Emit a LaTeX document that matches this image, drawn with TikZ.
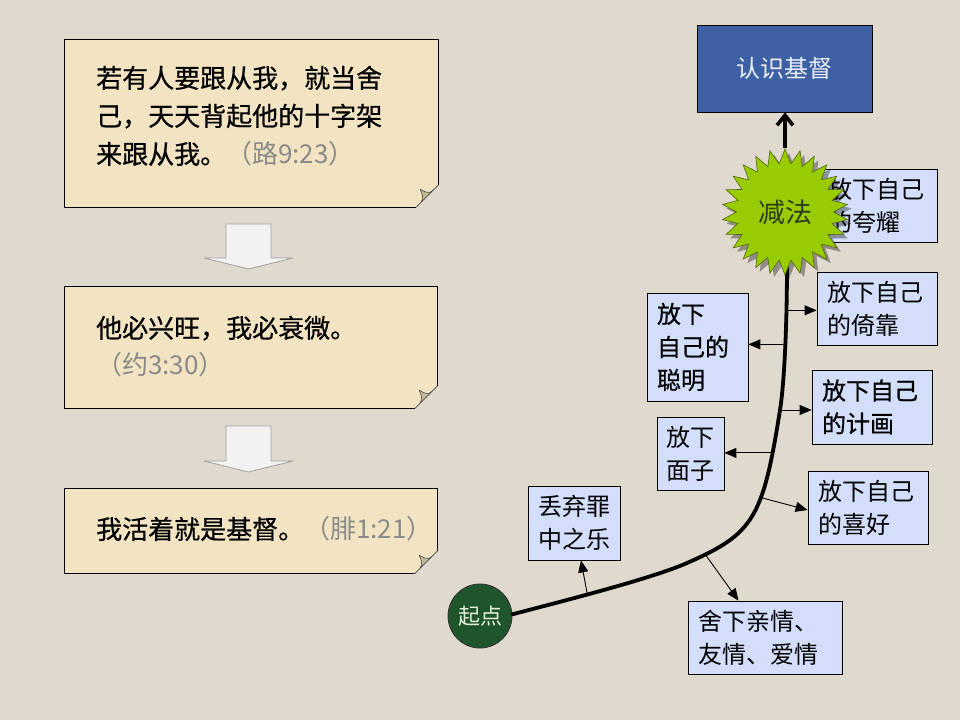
\documentclass[tikz,border=0pt]{standalone}
\usepackage{fontspec}
\setmainfont{Noto Sans CJK SC}
\newfontfamily\semib[FakeBold=0.6]{Noto Sans CJK SC}
\usetikzlibrary{arrows.meta,shapes.geometric,shadows}
\definecolor{bgc}{RGB}{223,217,206}
\definecolor{paper}{RGB}{242,228,194}
\definecolor{paperdark}{RGB}{196,184,150}
\definecolor{refgray}{RGB}{138,138,138}
\definecolor{lblue}{RGB}{210,222,250}
\definecolor{dblue}{RGB}{62,96,165}
\definecolor{sgreen}{RGB}{153,204,0}
\definecolor{starline}{RGB}{80,100,20}
\definecolor{startext}{RGB}{45,60,25}
\definecolor{dgreen}{RGB}{30,85,45}
\definecolor{qdtext}{RGB}{225,240,215}
\definecolor{rstext}{RGB}{235,240,250}
\definecolor{arrowfill}{RGB}{242,242,242}
\definecolor{arrowline}{RGB}{160,160,160}
\tikzset{
  pbox/.style={rectangle, draw=none, inner sep=0pt},
  stext/.style={inner sep=0pt, align=left, anchor=west, font=\semib\fontsize{26}{38}\selectfont},
  lbox/.style={rectangle, draw=black, line width=0.8pt, fill=lblue, inner xsep=10pt, inner ysep=0pt, align=left, font=\fontsize{24}{33}\selectfont},
  lboxb/.style={lbox, font=\semib\fontsize{24}{33}\selectfont},
  br/.style={line width=0.9pt, -{Triangle[length=12pt,width=10pt]}},
  maincurve/.style={line width=3.8pt, line cap=round},
  toparrow/.style={line width=3.6pt, -{Straight Barb[length=10pt,width=16pt]}},
  blockarrow/.style={fill=arrowfill, draw=arrowline, line width=0.8pt, line join=round},
  papfill/.style={fill=paper},
  papline/.style={draw=black, line width=1pt},
  flap/.style={fill=paperdark, draw=black!70, line width=0.6pt, line join=round}
}
\begin{document}
\begin{tikzpicture}[x=1pt,y=-1pt]
\useasboundingbox (0,0) rectangle (960,720);
\fill[bgc] (0,0) rectangle (960,720);
% paper boxes
\node[pbox, minimum width=373pt, minimum height=167pt] (p1) at (251.5,123.5) {};
\node[pbox, minimum width=372pt, minimum height=121pt] (p2) at (251,347.5) {};
\node[pbox, minimum width=372pt, minimum height=84pt] (p3) at (251,531) {};
\foreach \n in {p1,p2,p3}{
  \fill[papfill] (\n.north west) -- (\n.north east) -- ([yshift=22pt]\n.south east) -- ([xshift=-22pt]\n.south east) -- (\n.south west) -- cycle;
  \draw[papline] ([xshift=-22pt]\n.south east) -- (\n.south west) -- (\n.north west) -- (\n.north east) -- ([yshift=22pt]\n.south east);
  \filldraw[flap] ([yshift=22pt]\n.south east) .. controls ([xshift=-9pt,yshift=13pt]\n.south east) .. ([xshift=-18pt,yshift=18pt]\n.south east) .. controls ([xshift=-14pt,yshift=8pt]\n.south east) .. ([xshift=-22pt]\n.south east) -- cycle;
}
% block arrows
\coordinate (ar1) at (248.5,224);
\filldraw[blockarrow] (ar1) ++(-22.5,0) -- ++(45,0) -- ++(0,34) -- ++(22,0) -- ++(-44.5,11) -- ++(-44.5,-11) -- ++(22,0) -- cycle;
\coordinate (ar2) at (248.5,426);
\filldraw[blockarrow] (ar2) ++(-22.5,0) -- ++(45,0) -- ++(0,35) -- ++(22,0) -- ++(-44.5,11) -- ++(-44.5,-11) -- ++(22,0) -- cycle;
% scripture texts
\node[stext] (t1) at (96,116) {若有人要跟从我，就当舍\\己，天天背起他的十字架\\来跟从我。\textcolor{refgray}{\normalfont\fontsize{26}{38}\selectfont（路9:23）}};
\node[stext, font=\semib\fontsize{26}{37}\selectfont] (t2) at (96,346.5) {他必兴旺，我必衰微。\\\textcolor{refgray}{\normalfont\fontsize{26}{37}\selectfont（约3:30）}};
\node[stext] (t3) at (96,529) {我活着就是基督。\textcolor{refgray}{\normalfont\fontsize{26}{38}\selectfont（腓1:21）}};
% right side
\node[draw=black, line width=0.8pt, fill=dblue, text=rstext, minimum width=175pt, minimum height=87pt, font=\fontsize{24}{28}\selectfont] (rsjd) at (784.5,68.5) {\raisebox{-3pt}{认识基督}};
\node[lbox, text width=99pt, minimum height=73pt] (kuayao) at (877.5,205.5) {放下自己\\的夸耀};
\node[lbox, text width=100pt, minimum height=73pt] (yikao) at (877,308.5) {放下自己\\的倚靠};
\node[lboxb, text width=81pt, minimum height=108pt] (congming) at (697.5,347) {放下\\自己的\\聪明};
\node[lboxb, text width=100pt, minimum height=74pt] (jihua) at (872,407) {放下自己\\的计画};
\node[lbox, text width=48pt, inner xsep=9.5pt, minimum height=73pt] (mianzi) at (690.5,453.5) {放下\\面子};
\node[lbox, text width=100pt, minimum height=73pt] (xihao) at (868,507.5) {放下自己\\的喜好};
\node[lbox, text width=72pt, minimum height=74pt] (diuqi) at (574,523) {丢弃罪\\中之乐};
\node[lbox, text width=134pt, minimum height=73pt] (shexia) at (765,637.5) {舍下亲情、\\友情、爱情};
\node[circle, draw=black!80, line width=0.8pt, fill=dgreen, minimum size=64pt, inner sep=0pt, text=qdtext, font=\fontsize{22}{26}\selectfont] (qidian) at (480,616) {起点};
% main curve, with branch points on it
\draw[maincurve] (qidian.3) .. controls (567,600) and (652,578.4) .. (687,563)
    coordinate[pos=0.4] (b1)
  .. controls (753.6,533.8) and (762.9,518.5) .. (780,410)
    coordinate[pos=0.1] (b2) coordinate[pos=0.63] (b3) coordinate[pos=0.85] (b4) coordinate (b5)
  .. controls (784,385) and (787,330) .. (787,262)
    coordinate[pos=0.55] (b6) coordinate[pos=0.75] (b7);
% branches
\draw[br] (b1) -- (diuqi);
\draw[br] (b2) -- (shexia);
\draw[br] (b3) -- ([yshift=-2.5pt]xihao.west);
\draw[br] (b4) -- (b4 -| mianzi.east);
\draw[br] (b5) -- (b5 -| jihua.west);
\draw[br] (b6) -- (b6 -| congming.east);
\draw[br] (b7) -- (b7 -| yikao.west);
% starburst
\node[star, star points=26, star point ratio=1.3, minimum size=126pt, inner sep=0pt, fill=sgreen, draw=starline, line width=0.6pt, text=startext, font=\fontsize{27}{30}\selectfont, drop shadow={shadow xshift=4pt, shadow yshift=-4pt, opacity=0.35, fill=black}] (jianfa) at (785,212) {减法};
\draw[toparrow] (jianfa.north) -- (jianfa.north |- rsjd.south);
\end{tikzpicture}
\end{document}
